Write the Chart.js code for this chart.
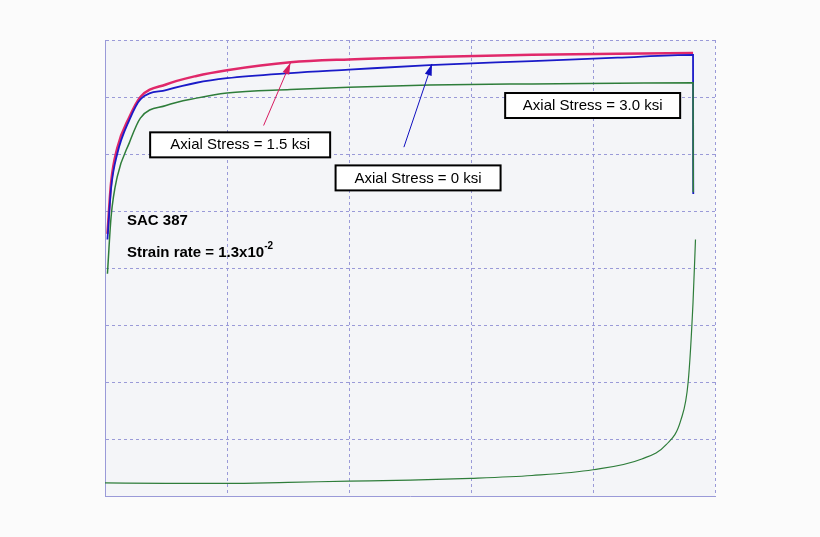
<!DOCTYPE html>
<html><head><meta charset="utf-8">
<script src="https://cdn.jsdelivr.net/npm/chart.js@4"></script>
<style>html,body{margin:0;background:#fbfbfb}</style>
</head><body>
<canvas id="c" width="820" height="537"></canvas>
<script>
// Strain (x) vs stress (y), arbitrary grid units
const pinkX = [0.02,0.05,0.1,0.2,0.29,0.5,0.75,1.0,1.52,2.0,2.66,3.5,4.2,4.82];
const pinkY = [4.6,5.5,6.1,6.65,7.0,7.22,7.37,7.47,7.61,7.66,7.70,7.74,7.76,7.77];
const blueX = [0.02,0.05,0.1,0.2,0.29,0.5,0.75,1.0,1.52,2.0,2.66,3.5,4.2,4.82,4.821,4.822];
const blueY = [4.5,5.4,6.0,6.6,6.96,7.12,7.25,7.33,7.42,7.48,7.56,7.63,7.69,7.74,6.0,5.3];
const greenX = [0.02,0.05,0.1,0.2,0.29,0.5,0.75,1.0,1.52,2.0,2.66,3.5,4.2,4.82,4.821,4.822];
const greenY = [3.9,4.9,5.6,6.2,6.63,6.85,6.98,7.07,7.13,7.17,7.21,7.23,7.24,7.25,6.0,5.33];
const lowX = [0.0,0.5,1.0,1.5,2.0,2.5,3.0,3.5,4.0,4.4,4.6,4.72,4.78,4.82,4.84];
const lowY = [0.23,0.22,0.22,0.24,0.26,0.28,0.31,0.36,0.46,0.65,0.9,1.33,2.0,3.4,4.5];

const pts = (xs, ys) => xs.map((x, i) => ({x, y: ys[i]}));

const labels = [
  {text: 'Axial Stress = 1.5 ksi', x: 0.37, y: 6.38, w: 180, arrow: [1.30, 6.5, 1.52, 7.6], color: '#d81b60'},
  {text: 'Axial Stress = 0 ksi', x: 1.89, y: 5.8, w: 165, arrow: [2.45, 6.12, 2.68, 7.58], color: '#1010c0'},
  {text: 'Axial Stress = 3.0 ksi', x: 3.28, y: 7.07, w: 175, arrow: null}
];

const annot = {
  id: 'annot',
  afterDatasetsDraw(chart) {
    const {ctx, scales: {x, y}} = chart;
    ctx.save();
    labels.forEach(l => {
      if (l.arrow) {
        const [x0, y0, x1, y1] = l.arrow;
        const ax = x.getPixelForValue(x0), ay = y.getPixelForValue(y0);
        const bx = x.getPixelForValue(x1), by = y.getPixelForValue(y1);
        ctx.strokeStyle = l.color; ctx.fillStyle = l.color; ctx.lineWidth = 1;
        ctx.beginPath(); ctx.moveTo(ax, ay); ctx.lineTo(bx, by); ctx.stroke();
        const a = Math.atan2(by - ay, bx - ax);
        ctx.beginPath(); ctx.moveTo(bx, by);
        ctx.lineTo(bx - 12 * Math.cos(a - 0.3), by - 12 * Math.sin(a - 0.3));
        ctx.lineTo(bx - 12 * Math.cos(a + 0.3), by - 12 * Math.sin(a + 0.3));
        ctx.fill();
      }
      const bx = x.getPixelForValue(l.x), by = y.getPixelForValue(l.y);
      ctx.fillStyle = '#fff'; ctx.fillRect(bx, by, l.w, 25);
      ctx.strokeStyle = '#000'; ctx.lineWidth = 2; ctx.strokeRect(bx, by, l.w, 25);
      ctx.fillStyle = '#000'; ctx.font = '15px "Liberation Sans", Arial';
      ctx.textBaseline = 'middle'; ctx.textAlign = 'center';
      ctx.fillText(l.text, bx + l.w / 2, by + 13);
    });
    ctx.textAlign = 'left'; ctx.textBaseline = 'alphabetic';
    ctx.font = 'bold 15px "Liberation Sans", Arial';
    const tx = x.getPixelForValue(0.18);
    ctx.fillText('SAC 387', tx, y.getPixelForValue(4.75));
    const sy = y.getPixelForValue(4.2);
    const s = 'Strain rate = 1.3x10';
    ctx.fillText(s, tx, sy);
    const w = ctx.measureText(s).width;
    ctx.font = 'bold 10px "Liberation Sans", Arial';
    ctx.fillText('-2', tx + w, sy - 8);
    ctx.restore();
  }
};

const plotBg = {
  id: 'plotBg',
  beforeDraw(chart) {
    const {ctx, chartArea: a} = chart;
    ctx.save(); ctx.fillStyle = '#f4f5f8';
    ctx.fillRect(a.left, a.top, a.right - a.left, a.bottom - a.top);
    ctx.restore();
  }
};

const line = (data, color, w) => ({data, borderColor: color, borderWidth: w, pointRadius: 0,
  cubicInterpolationMode: 'monotone', fill: false, showLine: true});

const gridColor = '#9a9ad8';

new Chart(document.getElementById('c'), {
  type: 'scatter',
  data: {datasets: [
    line(pts(lowX, lowY), '#2e7d3a', 1.2),
    line(pts(greenX, greenY), '#2e7d3a', 1.5),
    line(pts(blueX, blueY), '#1a1ac8', 1.8),
    line(pts(pinkX, pinkY), '#e0286a', 2.5)
  ]},
  options: {
    responsive: false, animation: false,
    layout: {padding: {left: 105, right: 105, top: 40, bottom: 41}},
    plugins: {legend: {display: false}, tooltip: {enabled: false}},
    scales: {
      x: {min: 0, max: 5, ticks: {display: false, stepSize: 1},
          grid: {color: gridColor, drawTicks: false},
          border: {color: gridColor, dash: [3, 3]}},
      y: {min: 0, max: 8, ticks: {display: false, stepSize: 1},
          grid: {color: gridColor, drawTicks: false},
          border: {color: gridColor, dash: [3, 3]}}
    }
  },
  plugins: [plotBg, annot]
});
</script>
</body></html>
